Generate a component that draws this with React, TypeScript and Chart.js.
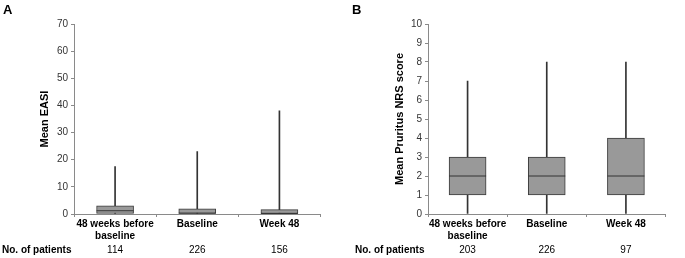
import React, { useEffect, useRef } from "react";
import { Chart, registerables } from "chart.js";
Chart.register(...registerables);

const FONT = "'Liberation Sans', Arial, Helvetica, sans-serif";
Chart.defaults.font.family = FONT;

// Shared categories
const categories: (string | string[])[] = [["48 weeks before", "baseline"], "Baseline", "Week 48"];

// Panel A: EASI
const easiMin = [0, 0, 0];
const easiQ1 = [0, 0, 0];
const easiMedian = [1.2, 0.3, 0.2];
const easiQ3 = [3.0, 1.9, 1.6];
const easiMax = [17.5, 23, 38];
const easiPatients = ["114", "226", "156"];

// Panel B: Pruritus NRS
const nrsMin = [0, 0, 0];
const nrsQ1 = [1, 1, 1];
const nrsMedian = [2, 2, 2];
const nrsQ3 = [3, 3, 4];
const nrsMax = [7, 8, 8];
const nrsPatients = ["203", "226", "97"];

type PanelProps = {
  min: number[];
  q1: number[];
  med: number[];
  q3: number[];
  max: number[];
  patients: string[];
  yMax: number;
  step: number;
  title: string;
  yWidth: number;
  titleOffset: number;
  padRight: number;
  width: number;
  height: number;
};

function Panel(p: PanelProps) {
  const ref = useRef<HTMLCanvasElement | null>(null);
  useEffect(() => {
    if (!ref.current) return;
    const axisColor = "#8a8a8a";
    const chart = new Chart(ref.current, {
      type: "bar",
      data: {
        labels: categories as any,
        datasets: [
          {
            type: "line",
            data: p.med,
            showLine: false,
            pointStyle: "line",
            pointRadius: 18.5,
            pointHoverRadius: 18.5,
            pointBorderColor: "#333",
            pointBorderWidth: 1,
            order: 0,
          } as any,
          {
            type: "bar",
            data: p.q1.map((v, i) => [v, p.q3[i]]),
            backgroundColor: "#999999",
            borderColor: "#3a3a3a",
            borderWidth: 1,
            borderSkipped: false,
            barThickness: 37,
            grouped: false,
            order: 1,
          } as any,
          {
            type: "bar",
            data: p.min.map((v, i) => [v, p.max[i]]),
            backgroundColor: "#333",
            borderWidth: 0,
            barThickness: 1,
            grouped: false,
            order: 2,
          } as any,
        ],
      },
      options: {
        responsive: false,
        animation: false,
        events: [],
        layout: { padding: { left: 0, right: p.padRight, top: 24, bottom: 0 } },
        plugins: { legend: { display: false }, tooltip: { enabled: false } },
        scales: {
          x: {
            type: "category",
            position: "bottom",
            weight: 0,
            offset: true,
            grid: { display: true, drawOnChartArea: false, drawTicks: true, tickLength: 3, color: axisColor, offset: true },
            border: { display: true, color: axisColor, width: 1 },
            ticks: {
              autoSkip: false,
              maxRotation: 0,
              padding: 1,
              color: "#000",
              font: { size: 10, weight: "bold", family: FONT, lineHeight: 1.2 },
            },
            afterFit: (s: any) => {
              s.height = 30;
            },
          },
          x2: {
            type: "category",
            position: "bottom",
            weight: 1,
            offset: true,
            labels: p.patients,
            grid: { display: false, drawTicks: false },
            border: { display: false },
            ticks: { padding: 0, color: "#000", font: { size: 10, family: FONT, lineHeight: 1.2 } },
            afterFit: (s: any) => {
              s.height = 14;
            },
          } as any,
          y: {
            min: 0,
            max: p.yMax,
            grid: { display: true, drawOnChartArea: false, drawTicks: true, tickLength: 3, color: axisColor },
            border: { display: true, color: axisColor, width: 1 },
            ticks: { stepSize: p.step, padding: 3, color: "#333", font: { size: 10, family: FONT } },
            title: {
              display: true,
              text: p.title,
              color: "#000",
              font: { size: 11, weight: "bold", family: FONT, lineHeight: 1.2 },
              padding: { top: p.titleOffset, bottom: 0 },
            },
            afterFit: (s: any) => {
              s.width = p.yWidth;
            },
          },
        },
      } as any,
    });
    return () => chart.destroy();
  }, []);
  return <canvas ref={ref} width={p.width} height={p.height} style={{ display: "block" }} />;
}

const labelStyle: React.CSSProperties = {
  position: "absolute",
  fontFamily: FONT,
  fontWeight: "bold",
  color: "#000",
  whiteSpace: "nowrap",
};

export default function App() {
  return (
    <div style={{ position: "fixed", left: 0, top: 0, width: 685, height: 258, background: "#fff", overflow: "hidden" }}>
      <div style={{ position: "absolute", left: 0, top: 0 }}>
        <Panel
          min={easiMin}
          q1={easiQ1}
          med={easiMedian}
          q3={easiQ3}
          max={easiMax}
          patients={easiPatients}
          yMax={70}
          step={10}
          title="Mean EASI"
          yWidth={74}
          titleOffset={38}
          padRight={11}
          width={340}
          height={258}
        />
      </div>
      <div style={{ position: "absolute", left: 340, top: 0 }}>
        <Panel
          min={nrsMin}
          q1={nrsQ1}
          med={nrsMedian}
          q3={nrsQ3}
          max={nrsMax}
          patients={nrsPatients}
          yMax={10}
          step={1}
          title="Mean Pruritus NRS score"
          yWidth={88}
          titleOffset={53}
          padRight={2}
          width={345}
          height={258}
        />
      </div>
      <div style={{ ...labelStyle, left: 3, top: 2, fontSize: 13, lineHeight: "15px" }}>A</div>
      <div style={{ ...labelStyle, left: 352, top: 2, fontSize: 13, lineHeight: "15px" }}>B</div>
      <div style={{ ...labelStyle, left: 2, top: 244, fontSize: 10, lineHeight: "12px" }}>No. of patients</div>
      <div style={{ ...labelStyle, left: 355, top: 244, fontSize: 10, lineHeight: "12px" }}>No. of patients</div>
    </div>
  );
}
